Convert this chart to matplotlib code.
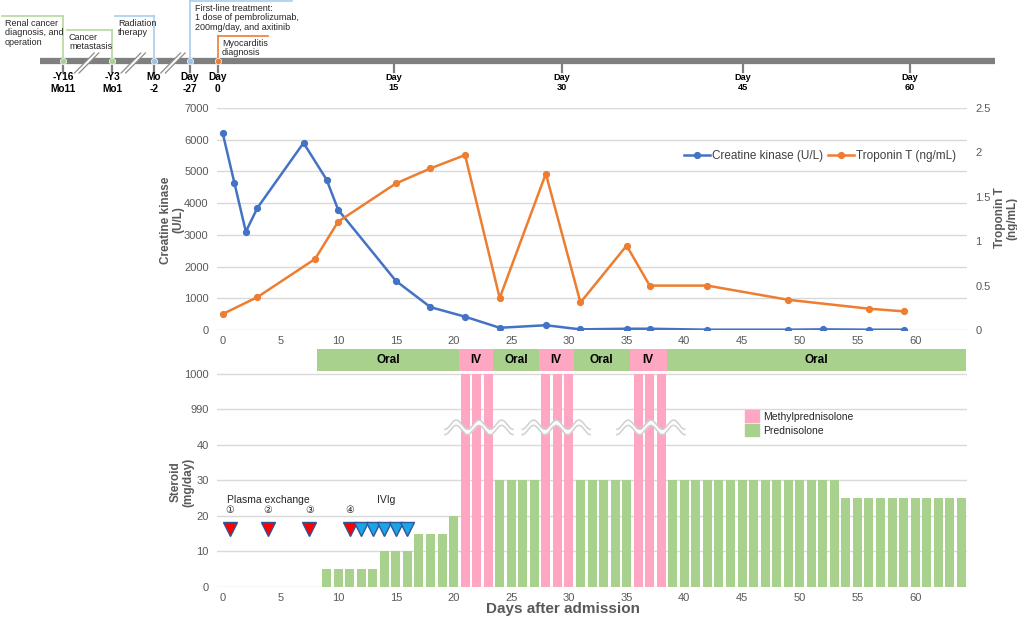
import matplotlib
matplotlib.use("Agg")
import matplotlib.pyplot as plt
import numpy as np
from matplotlib.patches import Patch, Polygon

plt.rcParams['font.family'] = ['Liberation Sans', 'DejaVu Sans']

# ---------------- data ----------------
ck_days = [0, 1, 2, 3, 7, 9, 10, 15, 18, 21, 24, 28, 31, 35, 37, 42, 49, 52, 56, 59]
ck_vals = [6200, 4650, 3100, 3850, 5900, 4740, 3790, 1550, 720, 420, 70, 150,
           20, 40, 40, 10, 10, 20, 10, 10]
tnt_days = [0, 3, 8, 10, 15, 18, 21, 24, 28, 31, 35, 37, 42, 49, 56, 59]
tnt_vals = [0.18, 0.37, 0.80, 1.22, 1.65, 1.82, 1.97, 0.36, 1.76, 0.31, 0.95,
            0.50, 0.50, 0.34, 0.24, 0.21]

pred_days = [9, 10, 11, 12, 13, 14, 15, 16, 17, 18, 19, 20,
             24, 25, 26, 27,
             31, 32, 33, 34, 35,
             39, 40, 41, 42, 43, 44, 45, 46, 47, 48, 49, 50, 51, 52, 53,
             54, 55, 56, 57, 58, 59, 60, 61, 62, 63, 64]
pred_vals = [5, 5, 5, 5, 5, 10, 10, 10, 15, 15, 15, 20,
             30, 30, 30, 30,
             30, 30, 30, 30, 30,
             30, 30, 30, 30, 30, 30, 30, 30, 30, 30, 30, 30, 30, 30, 30,
             25, 25, 25, 25, 25, 25, 25, 25, 25, 25, 25]
mpsl_days = [21, 22, 23, 28, 29, 30, 36, 37, 38]
mpsl_vals = [1000, 1000, 1000, 1000, 1000, 1000, 1000, 1000, 1000]

route_labels = ['Oral', 'IV', 'Oral', 'IV', 'Oral', 'IV', 'Oral']
route_bounds = [8.2, 20.45, 23.4, 27.4, 30.4, 35.25, 38.5, 64.45]

pex_days = [0.6, 3.9, 7.5, 11.0]
pex_labels = ['\u2460', '\u2461', '\u2462', '\u2463']
ivig_days = [12, 13, 14, 15, 16]
wave_centers = [22.2, 28.9, 37.1]

steroid_ticks = [0, 10, 20, 30, 40, 990, 1000]
day_ticks = [0, 5, 10, 15, 20, 25, 30, 35, 40, 45, 50, 55, 60]
ck_ticks = [0, 1000, 2000, 3000, 4000, 5000, 6000, 7000]
tnt_ticks = [0, 0.5, 1, 1.5, 2, 2.5]
tnt_ticklabels = ['0', '0.5', '1', '1.5', '2', '2.5']

# timeline (positions expressed on the day scale of the charts)
tl_pos = [-13.85, -9.6, -5.96, -2.84, -0.42, 14.84, 29.4, 45.1, 59.56]
tl_labels = ['-Y16\nMo11', '-Y3\nMo1', 'Mo\n-2', 'Day\n-27', 'Day\n0',
             'Day\n15', 'Day\n30', 'Day\n45', 'Day\n60']
ev_texts = ['Renal cancer\ndiagnosis, and\noperation',
            'Cancer\nmetastasis',
            'Radiation\ntherapy',
            'First-line treatment:\n1 dose of pembrolizumab,\n200mg/day, and axitinib',
            'Myocarditis\ndiagnosis']
ev_colors = ['#b5d99c', '#b5d99c', '#a9cdeb', '#a9cdeb', '#ed7d31']
ev_dot_colors = ['#a9d18e', '#a9d18e', '#9dc3e6', '#9dc3e6', '#ed7d31']
ev_top = [16, 30, 16, 1, 36]
ev_hline_end = [-19.14, -13.5, -9.34, 6.0, 3.92]
ev_text_x = [-18.88, -13.33, -9.08, -2.41, -0.07]
break_centers = [-11.8, -7.76, -4.32]

BLUE = '#4472c4'
ORANGE = '#ed7d31'
GREEN = '#a9d18e'
PINK = '#ffa6c3'
GRID = '#d9d9d9'
TXT = '#595959'

W, H = 1017, 619
fig = plt.figure(figsize=(W / 100, H / 100), dpi=100)

def fbox(l, t, r, b):
    return [l / W, 1 - b / H, (r - l) / W, (b - t) / H]

XL = (-0.5, 64.5)

# ---------------- timeline ----------------
axt = fig.add_axes([0, 1 - 100 / H, 1, 100 / H])
x0 = XL[0] - 217 * (XL[1] - XL[0]) / 750
x1 = XL[0] + (W - 217) * (XL[1] - XL[0]) / 750
axt.set_xlim(x0, x1)
axt.set_ylim(100, 0)
axt.axis('off')
axt.plot([-15.84, 66.9], [61, 61], color='#7f7f7f', lw=4.5, solid_capstyle='butt', zorder=2)
for i, p in enumerate(tl_pos):
    axt.plot([p, p], [63, 72], color='#7f7f7f', lw=1.6, zorder=1)
    big = i < 5
    axt.text(p, 72.5, tl_labels[i], ha='center', va='top', fontsize=7.3 if big else 6.6,
             fontweight='bold', color='black', linespacing=1.15)
dx, off = 0.85, 0.2
for c in break_centers:
    poly = Polygon([[c - dx - off, 73], [c + dx - off, 53], [c + dx + off, 53], [c - dx + off, 73]],
                   closed=True, facecolor='white', edgecolor='none', zorder=3)
    axt.add_patch(poly)
    for o in (-off, off):
        axt.plot([c - dx + o, c + dx + o], [73, 53], color='#8c8c8c', lw=0.9, zorder=4)
for i in range(5):
    p = tl_pos[i]
    axt.plot([p, p], [61, ev_top[i]], color=ev_colors[i], lw=1.2, zorder=1)
    axt.plot([p, ev_hline_end[i]], [ev_top[i], ev_top[i]], color=ev_colors[i], lw=1.2, zorder=1)
    axt.plot([p], [61], marker='o', ms=4.5, color=ev_dot_colors[i], mec='white', mew=0.5, zorder=4)
    axt.text(ev_text_x[i], ev_top[i] + 3, ev_texts[i], ha='left', va='top', fontsize=6.5,
             color='#262626', linespacing=1.05)

# ---------------- CK / troponin chart ----------------
ax1 = fig.add_axes(fbox(217, 108, 967, 330))
ax1.set_xlim(*XL)
ax1.set_ylim(0, 7000)
ax1.set_yticks(ck_ticks)
ax1.set_xticks(day_ticks)
ax1.grid(axis='y', color=GRID, lw=1)
ax1.set_axisbelow(True)
for s in ax1.spines.values():
    s.set_visible(False)
ax1.tick_params(length=0, labelsize=8, labelcolor=TXT)
ax1.tick_params(axis='y', pad=6)
ax1.tick_params(axis='x', pad=4)
l1, = ax1.plot(ck_days, ck_vals, color=BLUE, lw=1.8, marker='o', ms=4.2, zorder=3)

ax2 = ax1.twinx()
ax2.set_ylim(0, 2.5)
ax2.set_yticks(tnt_ticks)
ax2.set_yticklabels(tnt_ticklabels)
for s in ax2.spines.values():
    s.set_visible(False)
ax2.tick_params(length=0, labelsize=8, labelcolor=TXT, pad=6)
l2, = ax2.plot(tnt_days, tnt_vals, color=ORANGE, lw=1.8, marker='o', ms=4.2, zorder=3)
leg = ax2.legend([l1, l2], ['Creatine kinase (U/L)', 'Troponin T (ng/mL)'], ncol=2,
                 loc='center right', bbox_to_anchor=(0.985, 0.784), frameon=False,
                 fontsize=8.5, handlelength=2.2, handletextpad=0.15, columnspacing=0.4,
                 borderpad=0, borderaxespad=0)
for t in leg.get_texts():
    t.set_color('#404040')

fig.text(172 / W, 1 - 220 / H, 'Creatine kinase\n(U/L)', rotation=90, ha='center', va='center',
         fontsize=8.5, fontweight='bold', color=TXT, multialignment='center', linespacing=1.0)
fig.text(1006 / W, 1 - 218 / H, 'Troponin T\n(ng/mL)', rotation=90, ha='center', va='center',
         fontsize=8.5, fontweight='bold', color=TXT, multialignment='center', linespacing=1.0)

# ---------------- steroid chart ----------------
def fwd(v):
    v = np.asarray(v, dtype=float)
    return np.where(v <= 40, v, np.where(v >= 990, v - 940, 40 + (v - 40) * 10 / 950))

def inv(p):
    p = np.asarray(p, dtype=float)
    return np.where(p <= 40, p, np.where(p >= 50, p + 940, 40 + (p - 40) * 95))

ax3 = fig.add_axes(fbox(217, 349, 967, 587))
ax3.set_xlim(*XL)
ax3.set_yscale('function', functions=(fwd, inv))
ax3.set_ylim(0, 1007)
ax3.set_yticks(steroid_ticks)
ax3.set_yticklabels([str(t) for t in steroid_ticks])
ax3.yaxis.set_minor_locator(matplotlib.ticker.NullLocator())
ax3.set_xticks(day_ticks)
ax3.grid(axis='y', color=GRID, lw=1)
ax3.set_axisbelow(True)
for s in ax3.spines.values():
    s.set_visible(False)
ax3.tick_params(length=0, labelsize=8, labelcolor=TXT)
ax3.tick_params(axis='y', pad=6)
ax3.tick_params(axis='x', pad=4)

ax3.bar(pred_days, pred_vals, width=0.78, color=GREEN, zorder=2)
ax3.bar(mpsl_days, mpsl_vals, width=0.78, color=PINK, zorder=2)

# route band
band_lo, band_hi = 1000.8, 1007
for i, lab in enumerate(route_labels):
    a, b = route_bounds[i], route_bounds[i + 1]
    ax3.fill_between([a, b], band_lo, band_hi, color=PINK if lab == 'IV' else GREEN,
                     lw=0, zorder=2)
    ax3.text((a + b) / 2, 1003.9, lab, ha='center', va='center', fontsize=8.5,
             fontweight='bold', color='black', zorder=3)

# axis break waves
half, nper = 2.95, 3
for c in wave_centers:
    xs = np.linspace(c - half, c + half, 200)
    ph = 2 * np.pi * (xs - (c - half)) / (2 * half / nper)
    up = 45.7 - 1.3 * np.cos(ph)
    lo = 44.2 - 1.3 * np.cos(ph)
    ax3.fill_between(xs, inv(lo), inv(up), color='white', lw=0, zorder=4)
    ax3.plot(xs, inv(up), color='#d0d0d0', lw=1.1, zorder=5)
    ax3.plot(xs, inv(lo), color='#d0d0d0', lw=1.1, zorder=5)

# plasma exchange and IVIg markers
ax3.plot(pex_days, [16.2] * len(pex_days), ls='none', marker='v', ms=10, color='#ff0000',
         mec='#2f5597', mew=1, zorder=6)
ax3.plot(ivig_days, [16.2] * len(ivig_days), ls='none', marker='v', ms=10, color='#1aa6e6',
         mec='#2f5597', mew=1, zorder=6)
for d, lab in zip(pex_days, pex_labels):
    ax3.text(d, 21.7, lab, ha='center', va='center', fontsize=7, color='#262626',
             family=['DejaVu Sans', 'Noto Sans CJK JP'])
ax3.text(pex_days[0] - 0.25, 24.6, 'Plasma exchange', ha='left', va='center', fontsize=7.5,
         color='#262626')
ax3.text(14.2, 24.6, 'IVIg', ha='center', va='center', fontsize=7.5, color='#262626')

leg2 = ax3.legend([Patch(color=PINK), Patch(color=GREEN)],
                  ['Methylprednisolone', 'Prednisolone'], loc='upper left',
                  bbox_to_anchor=(0.704, 0.742), frameon=False, fontsize=7.5,
                  handlelength=1.3, handleheight=1.3, handletextpad=0.45,
                  labelspacing=0.25, borderpad=0, borderaxespad=0)
for t in leg2.get_texts():
    t.set_color('#262626')

fig.text(182 / W, 1 - 482 / H, 'Steroid\n(mg/day)', rotation=90, ha='center', va='center',
         fontsize=8.5, fontweight='bold', color=TXT, multialignment='center', linespacing=1.0)
fig.text(563 / W, 1 - 609 / H, 'Days after admission', ha='center', va='center',
         fontsize=11, fontweight='bold', color=TXT)

fig.savefig('out.png', dpi=100)
